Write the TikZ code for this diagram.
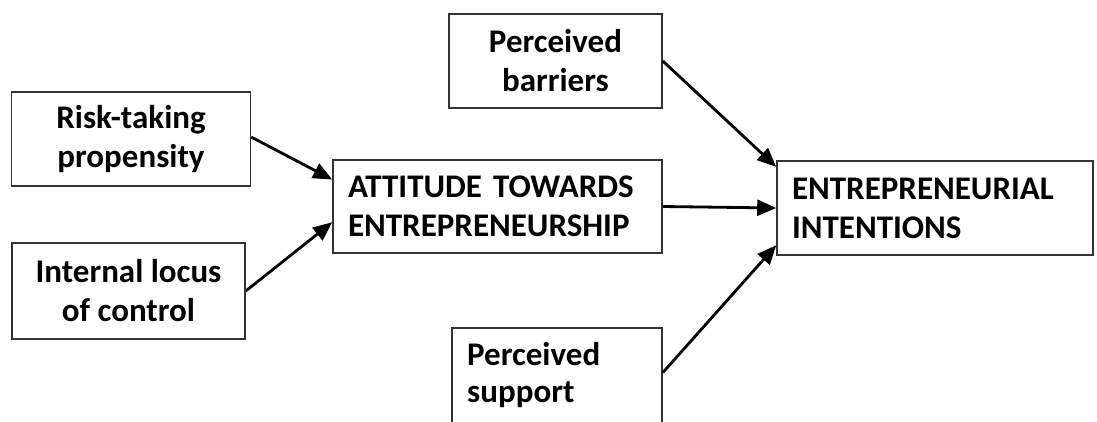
\documentclass[tikz,border=0pt]{standalone}
\usepackage{fontspec}
\setmainfont{Carlito}
\usetikzlibrary{arrows.meta,calc}
\begin{document}
\begin{tikzpicture}[x=1pt,y=-1pt,
  box/.style={draw=black!80, line width=1.6pt, rectangle, inner sep=0pt,
    font=\bfseries\fontsize{33}{39}\selectfont},
  cbox/.style={box, align=center},
  lbox/.style={box, align=left},
  txt/.style={font=\bfseries\fontsize{33}{39}\selectfont, anchor=base west, inner sep=0pt},
  link/.style={line width=2.8pt, -{Triangle[length=19pt,width=16pt]}}]
\path[use as bounding box] (0,0) rectangle (1097,422);
\clip (0,0) rectangle (1097,422);
\fill[white] (0,0) rectangle (1097,422);
\node[cbox, minimum width=239pt, minimum height=94pt] (risk) at (131,139) {Risk-taking\\propensity};
\node[cbox, minimum width=233pt, minimum height=96pt] (loc) at (128.5,291) {Internal locus\\of control};
\node[lbox, minimum width=329pt, minimum height=93pt, text width=299pt] (att) at (497.5,206.5) {ATTITUDE TOWARDS\\ENTREPRENEURSHIP};
\node[cbox, minimum width=213pt, minimum height=94pt] (bar) at (555.5,61) {Perceived\\barriers};
\node[box, minimum width=210pt, minimum height=132pt] (sup) at (557,394) {};
\node[txt] (suptxt) at (467,365) {Perceived};
\node[txt] (suptxt2) at (467,402) {support};
\node[lbox, minimum width=316pt, minimum height=94pt, text width=286pt] (ei) at (935,208) {ENTREPRENEURIAL\\INTENTIONS};
\coordinate (riskout) at ($(risk.north east)!0.48!(risk.south east)$);
\coordinate (supout) at ($(sup.north east)!0.34!(sup.south east)$);
\draw[link] (riskout) -- ($(att.north west)!0.215!(att.south west)$);
\draw[link] (loc.east) -- ($(att.north west)!0.667!(att.south west)$);
\draw[link] (att.east) -- (ei.west);
\draw[link] (bar.east) -- ($(ei.north west)!0.07!(ei.south west)$);
\draw[link] (supout) -- ($(ei.north west)!0.89!(ei.south west)$);
\end{tikzpicture}
\end{document}
